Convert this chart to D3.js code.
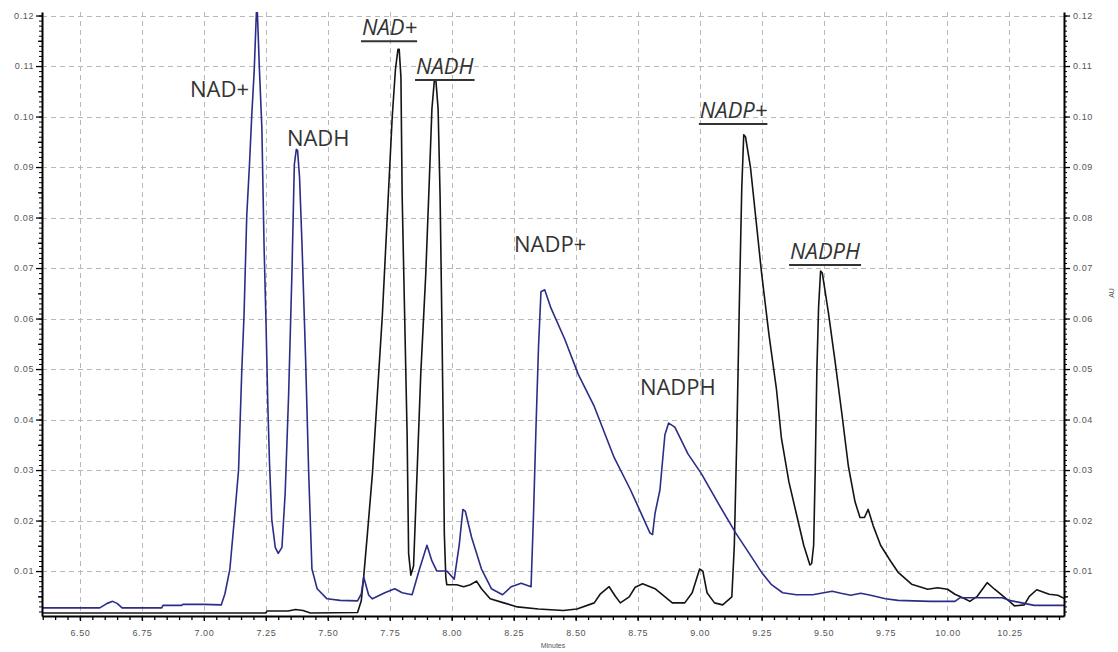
<!DOCTYPE html>
<html>
<head>
<meta charset="utf-8">
<script src="https://cdn.jsdelivr.net/npm/d3@7"></script>
<style>
  html, body { margin: 0; padding: 0; background: #fff; }
  svg { display: block; }
  .tick text { font-family: "Liberation Sans", Arial, sans-serif; font-size: 9px; fill: #555; letter-spacing: 0.6px; }
  .peak { font-family: "Open Sans", sans-serif; font-size: 22px; fill: #333; }
  .peak.std { font-style: italic; }
</style>
</head>
<body>
<svg id="chart" width="1118" height="652"></svg>
<script>
// Chromatogram: absorbance (AU) versus retention time (minutes), two injections.
const xTicks = [6.50, 6.75, 7.00, 7.25, 7.50, 7.75, 8.00, 8.25, 8.50, 8.75, 9.00, 9.25, 9.50, 9.75, 10.00, 10.25];
const yTicks = [0.01, 0.02, 0.03, 0.04, 0.05, 0.06, 0.07, 0.08, 0.09, 0.10, 0.11, 0.12];

// Sample trace (blue)
const sampleTime = [6.347, 6.58, 6.61, 6.632, 6.65, 6.67, 6.83, 6.835, 6.91, 6.915, 7.00, 7.07, 7.085, 7.105, 7.125, 7.14, 7.153, 7.162, 7.173, 7.184, 7.193, 7.203, 7.211, 7.213, 7.216, 7.224, 7.234, 7.243, 7.251, 7.258, 7.265, 7.274, 7.288, 7.30, 7.315, 7.328, 7.342, 7.355, 7.365, 7.373, 7.378, 7.386, 7.396, 7.41, 7.423, 7.436, 7.457, 7.497, 7.55, 7.62, 7.635, 7.645, 7.655, 7.665, 7.68, 7.73, 7.77, 7.80, 7.84, 7.87, 7.90, 7.92, 7.94, 7.98, 8.01, 8.03, 8.045, 8.055, 8.08, 8.12, 8.16, 8.205, 8.24, 8.28, 8.32, 8.33, 8.34, 8.35, 8.36, 8.375, 8.40, 8.456, 8.51, 8.575, 8.655, 8.72, 8.745, 8.80, 8.81, 8.82, 8.84, 8.86, 8.875, 8.90, 8.953, 9.007, 9.08, 9.146, 9.20, 9.252, 9.29, 9.335, 9.39, 9.456, 9.535, 9.57, 9.61, 9.65, 9.69, 9.75, 9.80, 9.93, 10.03, 10.05, 10.22, 10.25, 10.30, 10.35, 10.47];
const sampleAU = [0.0027, 0.0027, 0.0036, 0.0040, 0.0036, 0.0027, 0.0027, 0.0032, 0.0032, 0.0034, 0.0034, 0.0033, 0.0055, 0.0104, 0.0214, 0.0300, 0.0497, 0.0606, 0.0803, 0.0905, 0.1000, 0.1090, 0.1195, 0.1215, 0.1205, 0.1095, 0.0977, 0.0741, 0.0586, 0.0429, 0.0311, 0.0202, 0.0147, 0.0135, 0.0147, 0.0254, 0.0450, 0.0685, 0.0905, 0.0935, 0.0933, 0.0880, 0.0746, 0.0528, 0.0292, 0.0104, 0.0065, 0.0045, 0.0042, 0.0041, 0.0055, 0.0088, 0.0070, 0.0052, 0.0045, 0.0057, 0.0065, 0.0057, 0.0053, 0.0104, 0.0151, 0.0120, 0.0100, 0.0100, 0.0084, 0.0151, 0.0222, 0.0218, 0.0167, 0.0104, 0.0065, 0.0053, 0.0069, 0.0076, 0.0069, 0.0214, 0.0386, 0.0543, 0.0653, 0.0657, 0.0621, 0.0559, 0.0490, 0.0426, 0.0325, 0.0262, 0.0235, 0.0175, 0.0172, 0.0214, 0.0261, 0.0370, 0.0393, 0.0385, 0.0332, 0.0293, 0.0230, 0.0175, 0.0135, 0.0096, 0.0073, 0.0057, 0.0053, 0.0053, 0.0060, 0.0056, 0.0052, 0.0056, 0.0052, 0.0045, 0.0042, 0.0040, 0.0040, 0.0047, 0.0047, 0.0042, 0.0037, 0.0032, 0.0032];

// Standard trace (black)
const standardTime = [6.347, 7.25, 7.255, 7.34, 7.37, 7.40, 7.43, 7.62, 7.635, 7.645, 7.66, 7.68, 7.70, 7.72, 7.74, 7.76, 7.773, 7.783, 7.788, 7.795, 7.80, 7.81, 7.82, 7.826, 7.835, 7.846, 7.86, 7.875, 7.895, 7.91, 7.92, 7.93, 7.936, 7.945, 7.953, 7.96, 7.966, 7.97, 7.976, 7.98, 8.02, 8.048, 8.075, 8.10, 8.12, 8.155, 8.21, 8.265, 8.35, 8.45, 8.505, 8.575, 8.60, 8.635, 8.66, 8.68, 8.716, 8.74, 8.77, 8.82, 8.89, 8.94, 8.97, 9.00, 9.013, 9.03, 9.06, 9.093, 9.13, 9.14, 9.15, 9.16, 9.17, 9.178, 9.185, 9.205, 9.226, 9.25, 9.28, 9.31, 9.33, 9.36, 9.39, 9.42, 9.445, 9.452, 9.46, 9.466, 9.473, 9.48, 9.488, 9.495, 9.52, 9.547, 9.574, 9.60, 9.627, 9.647, 9.665, 9.68, 9.70, 9.73, 9.77, 9.80, 9.855, 9.92, 9.96, 10.00, 10.03, 10.07, 10.09, 10.12, 10.16, 10.19, 10.25, 10.27, 10.31, 10.33, 10.36, 10.41, 10.445, 10.47];
const standardAU = [0.0017, 0.0017, 0.0021, 0.0021, 0.0024, 0.0022, 0.0017, 0.0018, 0.0041, 0.0090, 0.0175, 0.0293, 0.0450, 0.0606, 0.0803, 0.1000, 0.1094, 0.1133, 0.1133, 0.1078, 0.0842, 0.0606, 0.0370, 0.0135, 0.0092, 0.0110, 0.0293, 0.0490, 0.0686, 0.0880, 0.1015, 0.1072, 0.1072, 0.1015, 0.0842, 0.0600, 0.0370, 0.0175, 0.0088, 0.0073, 0.0073, 0.0069, 0.0073, 0.0080, 0.0065, 0.0045, 0.0037, 0.0029, 0.0025, 0.0022, 0.0025, 0.0037, 0.0055, 0.0069, 0.0050, 0.0037, 0.0049, 0.0068, 0.0075, 0.0065, 0.0037, 0.0037, 0.0057, 0.0104, 0.0100, 0.0057, 0.0037, 0.0033, 0.0049, 0.0151, 0.0363, 0.0623, 0.0858, 0.0964, 0.0960, 0.0900, 0.0802, 0.0690, 0.0567, 0.0460, 0.0363, 0.0277, 0.0214, 0.0151, 0.0112, 0.0115, 0.0151, 0.0290, 0.0497, 0.0623, 0.0694, 0.0690, 0.0610, 0.0513, 0.0411, 0.0308, 0.0237, 0.0206, 0.0206, 0.0222, 0.0190, 0.0151, 0.0120, 0.0098, 0.0074, 0.0064, 0.0067, 0.0064, 0.0054, 0.0045, 0.0040, 0.0050, 0.0077, 0.0064, 0.0040, 0.0031, 0.0033, 0.0050, 0.0063, 0.0054, 0.0052, 0.0046];

// Peak labels: sample peaks (plain) and standard peaks (italic, underlined); anchor = [minutes, AU] of text start/baseline
const sampleLabels = ["NAD+", "NADH", "NADP+", "NADPH"];
const sampleLabelAt = [[6.944, 0.1039], [7.335, 0.0942], [8.251, 0.0732], [8.759, 0.0449]];
const standardLabels = ["NAD+", "NADH", "NADP+", "NADPH"];
const standardLabelAt = [[7.638, 0.1161], [7.856, 0.1084], [9.001, 0.0997], [9.365, 0.0718]];

const svg = d3.select("#chart");
const plotLeft = 42, plotRight = 1064, plotTop = 12, plotBottom = 616;

const x = d3.scaleLinear().domain([6.347, 10.47]).range([plotLeft, plotRight]);
const y = d3.scaleLinear().domain([0.0011, 0.1207]).range([plotBottom, plotTop]);

// Grid
const grid = svg.append("g").attr("stroke", "#b8b8b8").attr("stroke-width", 1).attr("stroke-dasharray", "5,4");
grid.selectAll("line.v").data(xTicks).join("line").attr("class", "v")
  .attr("x1", d => Math.round(x(d)) + 0.5).attr("x2", d => Math.round(x(d)) + 0.5)
  .attr("y1", plotTop).attr("y2", plotBottom);
grid.selectAll("line.h").data(yTicks).join("line").attr("class", "h")
  .attr("x1", plotLeft).attr("x2", plotRight)
  .attr("y1", d => Math.round(y(d)) + 0.5).attr("y2", d => Math.round(y(d)) + 0.5);

// Traces
svg.append("clipPath").attr("id", "plot").append("rect")
  .attr("x", plotLeft).attr("y", plotTop).attr("width", plotRight - plotLeft).attr("height", plotBottom - plotTop);

const line = d3.line().x(d => x(d[0])).y(d => y(d[1]));
const sample = sampleTime.map((t, i) => [t, sampleAU[i]]);
const standard = standardTime.map((t, i) => [t, standardAU[i]]);

const traces = svg.append("g").attr("clip-path", "url(#plot)").attr("fill", "none")
  .attr("stroke-linejoin", "round");
traces.append("path").datum(standard).attr("d", line)
  .attr("stroke", "#141414").attr("stroke-width", 1.6);
traces.append("path").datum(sample).attr("d", line)
  .attr("stroke", "#2b2d86").attr("stroke-width", 1.6);

// Axes
const fmt = d3.format(".2f");
const minorX = d3.range(6.35, 10.47, 0.05).map(v => +v.toFixed(2));
const minorY = d3.range(0.002, 0.1207, 0.001).map(v => +v.toFixed(3));
const midY = minorY.filter(v => Math.round(v * 1000) % 10 === 5);

function styleAxis(g) {
  g.select(".domain").attr("stroke", "#000").attr("stroke-width", 2);
  g.selectAll(".tick line").attr("stroke", "#000").attr("stroke-width", 1.3);
}
function minorAxis(axis, size, width) {
  return g => g.call(axis.tickSize(size).tickFormat("").tickSizeOuter(0))
    .call(s => s.select(".domain").remove())
    .call(s => s.selectAll(".tick line").attr("stroke", "#000").attr("stroke-width", width));
}

svg.append("g").attr("transform", `translate(0,${plotBottom})`)
  .call(minorAxis(d3.axisBottom(x).tickValues(minorX), 4, 1.3));
svg.append("g").attr("transform", `translate(0,${plotBottom})`)
  .call(d3.axisBottom(x).tickValues(xTicks).tickFormat(fmt).tickSize(5).tickPadding(9).tickSizeOuter(0))
  .call(styleAxis);

svg.append("g").attr("transform", `translate(${plotLeft},0)`)
  .call(minorAxis(d3.axisLeft(y).tickValues(minorY), 3, 1));
svg.append("g").attr("transform", `translate(${plotLeft},0)`)
  .call(minorAxis(d3.axisLeft(y).tickValues(midY), 4, 1.3));
svg.append("g").attr("transform", `translate(${plotLeft},0)`)
  .call(d3.axisLeft(y).tickValues(yTicks).tickFormat(fmt).tickSize(6).tickPadding(2).tickSizeOuter(0))
  .call(styleAxis);

svg.append("g").attr("transform", `translate(${plotRight},0)`)
  .call(minorAxis(d3.axisRight(y).tickValues(minorY), 3, 1));
svg.append("g").attr("transform", `translate(${plotRight},0)`)
  .call(minorAxis(d3.axisRight(y).tickValues(midY), 4, 1.3));
svg.append("g").attr("transform", `translate(${plotRight},0)`)
  .call(d3.axisRight(y).tickValues(yTicks).tickFormat(fmt).tickSize(6).tickPadding(3).tickSizeOuter(0))
  .call(styleAxis);

// Axis titles
svg.append("text").attr("x", 553).attr("y", 648).attr("text-anchor", "middle")
  .attr("font-family", "Liberation Sans, Arial, sans-serif").attr("font-size", 7).attr("fill", "#555")
  .text("Minutes");
svg.append("text").attr("transform", "translate(1114,293) rotate(-90)").attr("text-anchor", "middle")
  .attr("font-family", "Liberation Sans, Arial, sans-serif").attr("font-size", 7).attr("fill", "#555")
  .text("AU");

// Peak labels
const labels = svg.append("g");
sampleLabels.forEach((name, i) => {
  labels.append("text").attr("class", "peak")
    .attr("x", x(sampleLabelAt[i][0])).attr("y", y(sampleLabelAt[i][1]))
    .text(name);
});
standardLabels.forEach((name, i) => {
  const t = labels.append("text").attr("class", "peak std")
    .attr("x", x(standardLabelAt[i][0])).attr("y", y(standardLabelAt[i][1]))
    .text(name);
  const bb = t.node().getBBox();
  const uy = y(standardLabelAt[i][1]) + 6;
  labels.append("line")
    .attr("x1", bb.x - 1).attr("x2", bb.x + bb.width)
    .attr("y1", uy).attr("y2", uy)
    .attr("stroke", "#333").attr("stroke-width", 2);
});
</script>
</body>
</html>
